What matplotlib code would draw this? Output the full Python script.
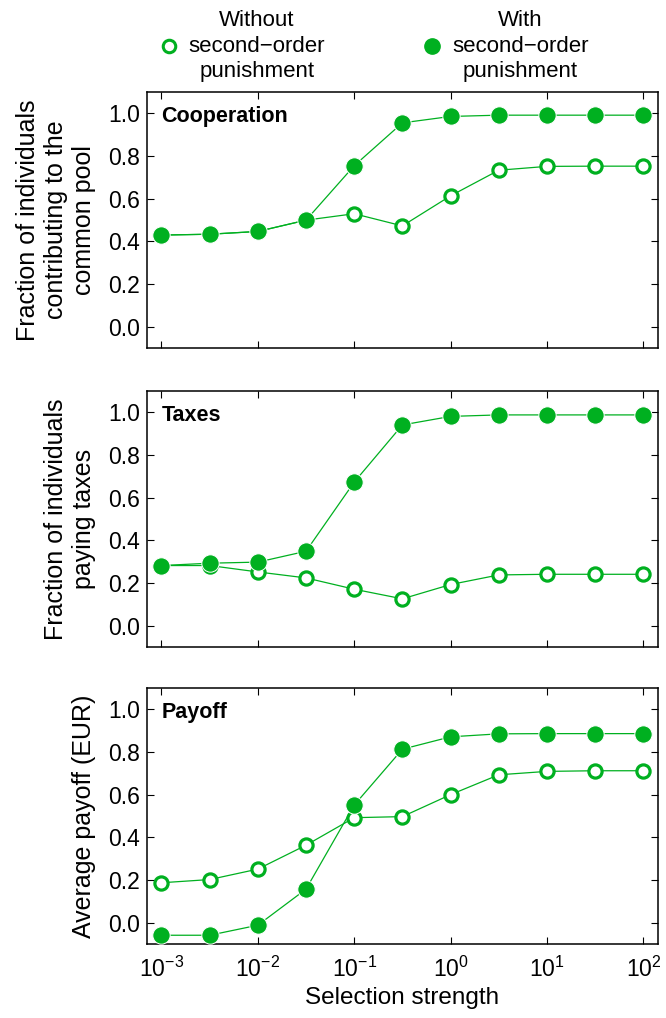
import numpy as np
from matplotlib import pyplot as plt
from matplotlib.lines import Line2D

plt.rcParams['font.family'] = ['Liberation Sans', 'DejaVu Sans']

# selection strength (half-decade steps)
strength = [1e-3, 10**-2.5, 1e-2, 10**-1.5, 1e-1, 10**-0.5, 1e0, 10**0.5, 1e1, 10**1.5, 1e2]

coop_without = [0.43, 0.434, 0.447, 0.50, 0.53, 0.473, 0.614, 0.734, 0.752, 0.753, 0.753]
coop_with = [0.43, 0.434, 0.447, 0.50, 0.755, 0.956, 0.986, 0.992, 0.992, 0.992, 0.992]

tax_without = [0.282, 0.282, 0.252, 0.224, 0.171, 0.126, 0.193, 0.238, 0.241, 0.241, 0.241]
tax_with = [0.282, 0.293, 0.298, 0.349, 0.673, 0.941, 0.981, 0.988, 0.988, 0.988, 0.988]

pay_without = [0.187, 0.202, 0.251, 0.363, 0.492, 0.497, 0.600, 0.693, 0.709, 0.712, 0.712]
pay_with = [-0.059, -0.059, -0.012, 0.157, 0.551, 0.813, 0.871, 0.885, 0.886, 0.886, 0.886]

titles = ['Cooperation', 'Taxes', 'Payoff']
ylabels = ['Fraction of individuals\ncontributing to the\ncommon pool',
           'Fraction of individuals\npaying taxes',
           'Average payoff (EUR)']
series = [(coop_without, coop_with), (tax_without, tax_with), (pay_without, pay_with)]

green = '#00b020'
fig = plt.figure(figsize=(6.66, 10.18), dpi=100)
bottoms = [0.658, 0.3644, 0.0727]
axes = []
for i in range(3):
    ax = fig.add_axes([0.2207, bottoms[i], 0.767, 0.2515])
    axes.append(ax)
    wo, wi = series[i]
    ax.plot(strength, wo, '-o', color=green, lw=0.9, ms=9.5, mfc='white',
            mec=green, mew=2.3, zorder=2)
    ax.plot(strength, wi, '-o', color=green, lw=0.9, ms=12.5, mfc=green,
            mec='white', mew=0.7, zorder=3)
    ax.set_xscale('log')
    ax.set_xlim(10**-3.15, 10**2.15)
    ax.set_ylim(-0.1, 1.1)
    ax.set_yticks([0.0, 0.2, 0.4, 0.6, 0.8, 1.0])
    ax.set_xticks([1e-3, 1e-2, 1e-1, 1e0, 1e1, 1e2])
    ax.xaxis.set_minor_locator(plt.NullLocator())
    ax.tick_params(direction='in', top=True, right=True, length=5, width=0.8,
                   labelsize=16.5, pad=5)
    ax.tick_params(axis='x', pad=9)
    for s in ax.spines.values():
        s.set_linewidth(1.1)
    ax.text(0.028, 0.945, titles[i], transform=ax.transAxes, fontsize=15.5,
            fontweight='bold', va='top', ha='left')
    ax.set_ylabel(ylabels[i], fontsize=18, linespacing=1.22)
    ax.yaxis.set_label_coords(-0.1, 0.5)
    if i < 2:
        ax.set_xticklabels([])

axes[2].set_xlabel('Selection strength', fontsize=17.5, labelpad=4)

handles = [Line2D([], [], ls='none', marker='o', ms=9, mfc='white', mec=green, mew=2.2),
           Line2D([], [], ls='none', marker='o', ms=11, mfc=green, mec=green)]
labels = ['Without\nsecond\u2212order\npunishment', 'With\nsecond\u2212order\npunishment']
leg = fig.legend(handles, labels, ncol=2, frameon=False, loc='upper center',
                 bbox_to_anchor=(0.56, 1.01), fontsize=16, columnspacing=4.3,
                 handletextpad=0.4, handlelength=1.0)
for t in leg.get_texts():
    t.set_multialignment('center')
    t.set_linespacing(1.3)

fig.savefig('out.png', dpi=100)
